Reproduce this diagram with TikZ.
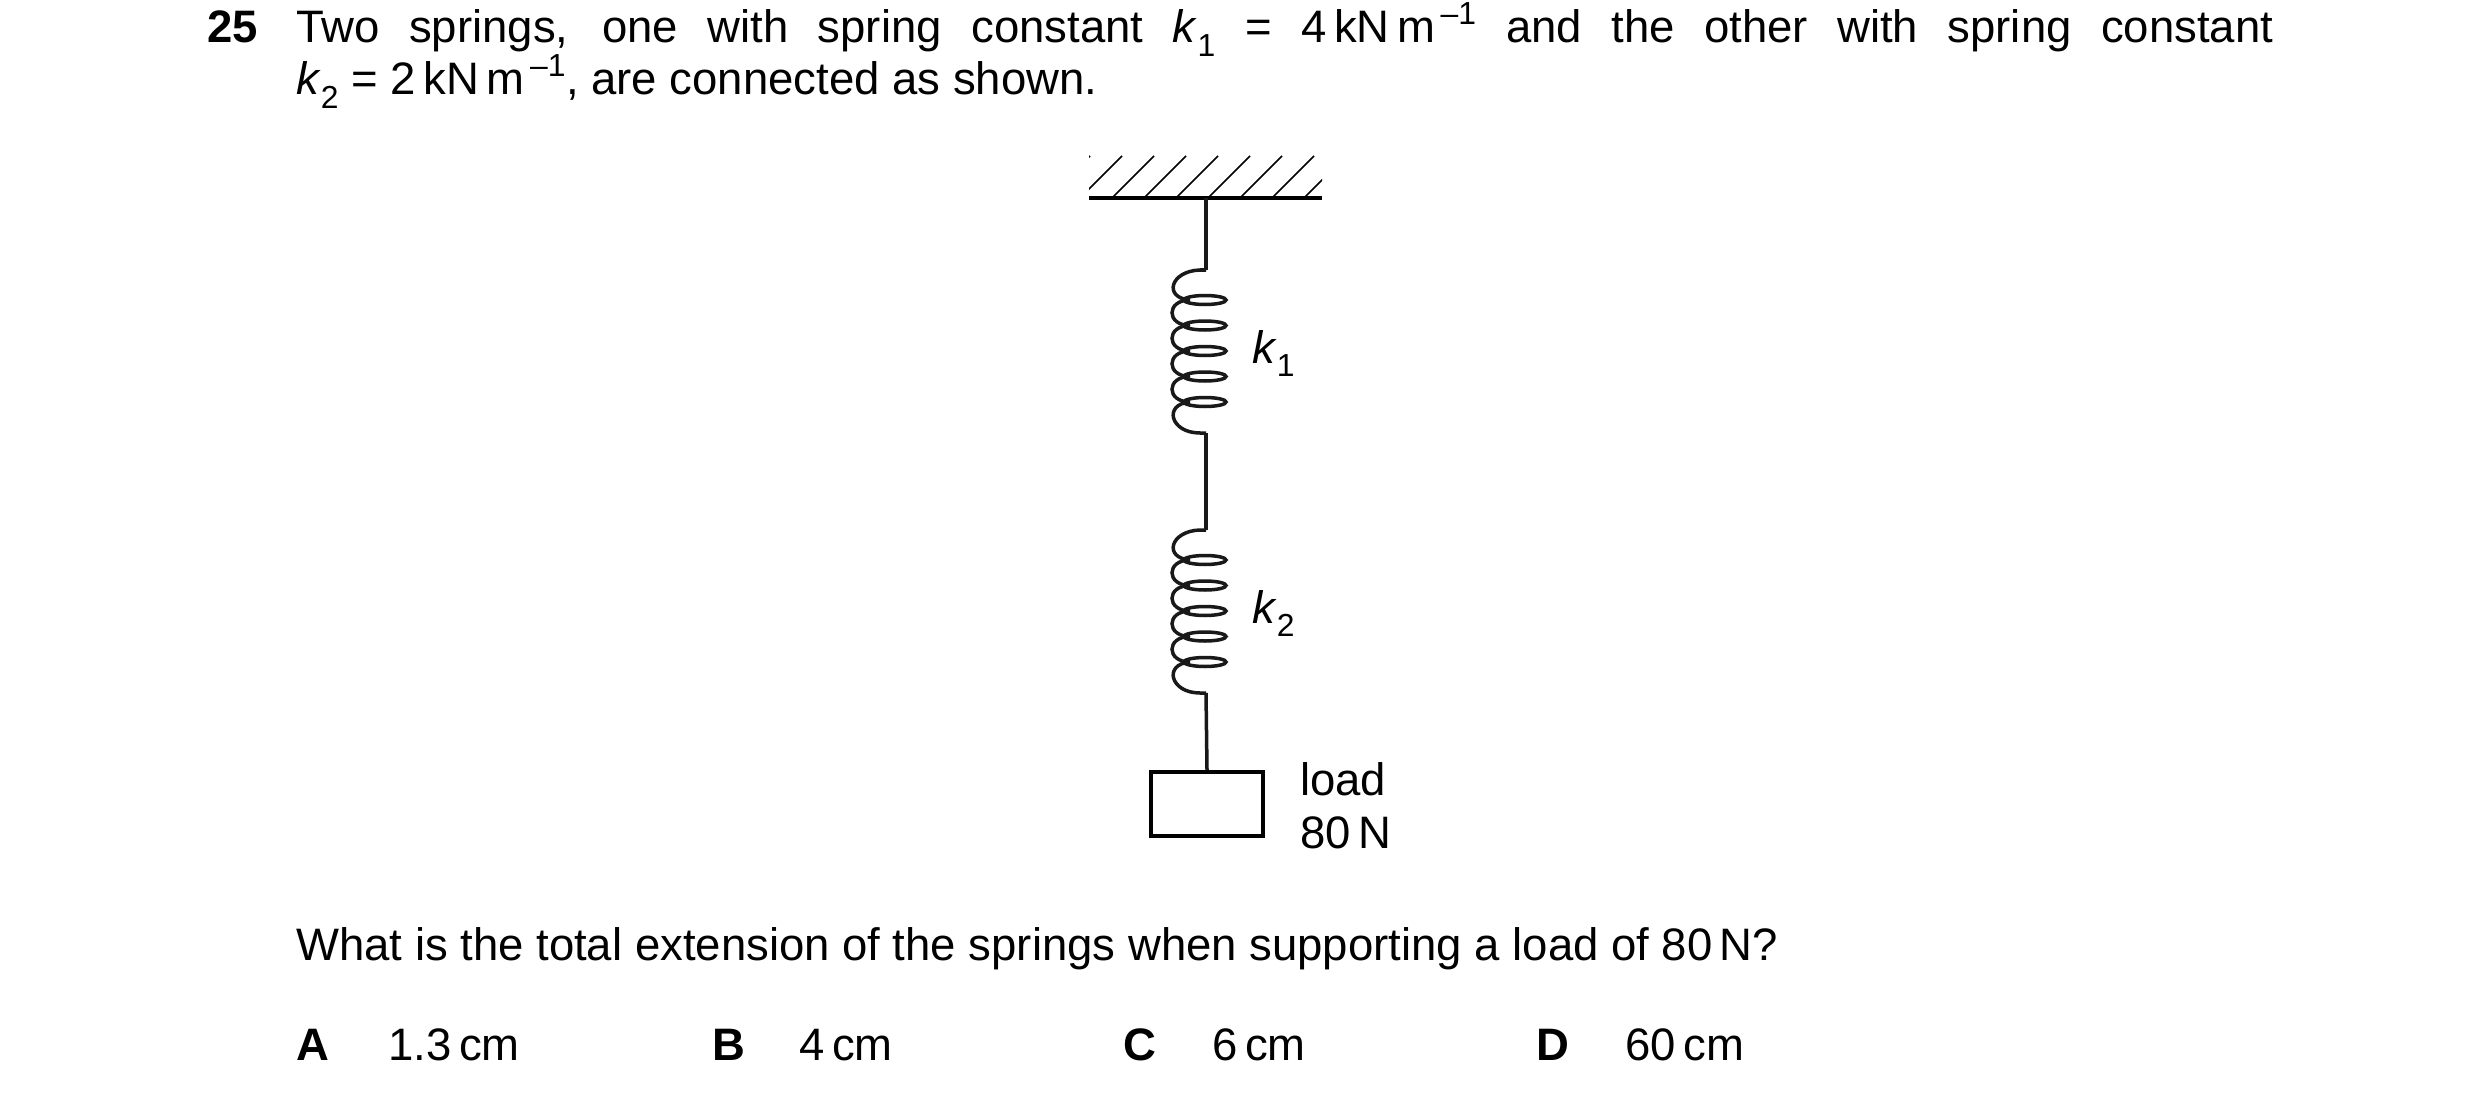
\documentclass[tikz,border=0pt]{standalone}
\usepackage{fontspec}
\setmainfont{Liberation Sans}
\newcommand{\springat}[1]{%
  \draw[wire] (1206,#1) -- (1200,#1) .. controls (1170,#1+1) and (1163,#1+28) .. (1190,#1+30);
  \foreach \i in {0,...,4}{\draw[wire] (1205,#1+30+25.5*\i) ellipse[x radius=21,y radius=4.5];}
  \foreach \i in {0,...,3}{\draw[wire] (1190,#1+30+25.5*\i) .. controls (1166,#1+30+25.5*\i) and (1166,#1+55.5+25.5*\i) .. (1190,#1+55.5+25.5*\i);}
  \draw[wire] (1190,#1+132) .. controls (1163,#1+134) and (1170,#1+163) .. (1200,#1+163) -- (1206,#1+163);
}
\newcommand{\kk}[1]{\textit{k}\textsubscript{#1}}
\newcommand{\inv}{\raisebox{0.2em}{\textsuperscript{\,–1}}}
\begin{document}
\begin{tikzpicture}[x=1pt,y=-1pt,
  wire/.style={line width=3.5pt,black!90},
  txt/.style={inner sep=0pt,anchor=base west,font=\fontsize{45.5}{52}\selectfont},
  bold/.style={txt,font=\fontsize{45.5}{52}\selectfont\bfseries}]
\useasboundingbox (0,0) rectangle (2480,1099);
% text
\node[bold] (num) at (207,43) {25};
\node[txt] (q1) at (296,43)
 {\makebox[1977pt][s]{Two springs, one with spring constant \kk{1} = 4\,kN\,m\inv\ and the other with spring constant}};
\node[txt] (q1b) at (296,95) {\kk{2} = 2\,kN\,m\inv, are connected as shown.};
% ceiling
\begin{scope}
\clip (1089,155) rectangle (1322,200);
\foreach \x in {1048,1080,...,1336}{\draw[line width=1.6pt] (\x,198) -- (\x+42,156);}
\end{scope}
\draw[line width=4pt] (1089,198) coordinate (cl) -- (1322,198) coordinate (cr);
\coordinate (top) at (1206,198);
\draw[wire] (top) -- (1206,270);
\springat{270}
\draw[wire] (1206,433) -- (1206,530);
\springat{530}
\node[draw,line width=4pt,minimum width=112pt,minimum height=64pt,anchor=north,inner sep=0pt] (box) at (1207,770) {};
\draw[wire] (1206,693) -- (box.north);
\node[txt] (k1) at (1252,363) {\kk{1}};
\node[txt] (k2) at (1252,623) {\kk{2}};
\node[txt] (load) at (1300,795) {load};
\node[txt] (ld) at (1300,848) {80\,N};
\node[txt] (q2) at (296,960) {What is the total extension of the springs when supporting a load of 80\,N?};
\node[bold] (A) at (296,1060) {A};
\node[txt] (a) at (388,1060) {1.3\,cm};
\node[bold] (B) at (712,1060) {B};
\node[txt] (b) at (799,1060) {4\,cm};
\node[bold] (C) at (1123,1060) {C};
\node[txt] (c) at (1212,1060) {6\,cm};
\node[bold] (D) at (1536,1060) {D};
\node[txt] (d) at (1625,1060) {60\,cm};
\end{tikzpicture}
\end{document}
